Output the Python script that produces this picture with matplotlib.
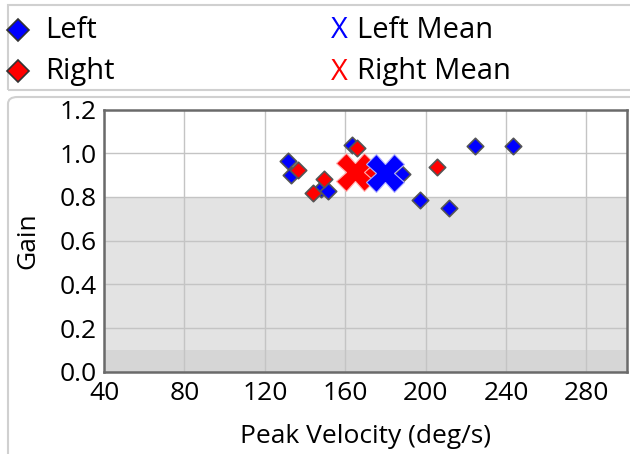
import matplotlib
matplotlib.use("Agg")
import matplotlib.pyplot as plt
from matplotlib.patches import FancyBboxPatch, Rectangle
from matplotlib.lines import Line2D
from matplotlib.ticker import MultipleLocator

plt.rcParams["font.family"] = ["Open Sans", "DejaVu Sans"]

# 数据
left_vel = [131.3, 133.1, 147.9, 151.2, 163.5, 188.0, 224.3, 243.5, 197.0, 211.8]
left_gain = [0.963, 0.902, 0.838, 0.826, 1.038, 0.905, 1.034, 1.034, 0.785, 0.751]
right_vel = [136.3, 149.2, 143.9, 165.8, 205.7, 172.0]
right_gain = [0.921, 0.881, 0.819, 1.023, 0.937, 0.911]
left_mean = (180.0, 0.911)
right_mean = (165.0, 0.916)

# 背景分区
bands = [(0.0, 0.1, "#d6d6d6"), (0.1, 0.8, "#e3e3e3"), (0.8, 1.2, "white")]
xticks = [40, 80, 120, 160, 200, 240, 280]

W, H = 630, 454
fig = plt.figure(figsize=(W / 100, H / 100), dpi=100)

# 外框
fig.patches.append(Rectangle((8 / W, 1 - 90 / H), 640 / W, 85 / H, transform=fig.transFigure,
                             fill=False, ec="#d0d0d0", lw=1.5))
fig.patches.append(FancyBboxPatch((8 / W, -10 / H), 640 / W, (H - 97 + 10) / H,
                                  boxstyle="round,pad=0,rounding_size=0.015",
                                  transform=fig.transFigure, fill=False, ec="#d0d0d0", lw=1.5))

ax = fig.add_axes([104 / W, 1 - 371.7 / H, (626.7 - 104) / W, (371.7 - 109.5) / H])
for lo, hi, c in bands:
    ax.axhspan(lo, hi, color=c, zorder=0, lw=0)

ax.set_xlim(40, 300)
ax.set_ylim(0, 1.2)
ax.set_xticks(xticks)
ax.yaxis.set_major_locator(MultipleLocator(0.2))
ax.yaxis.set_major_formatter(plt.FormatStrFormatter("%.1f"))
ax.grid(True, color="#c4c4c4", lw=1.0, zorder=1)
ax.set_axisbelow(True)
ax.tick_params(length=0, labelsize=19, pad=5)
ax.tick_params(axis="x", pad=7)
for s in ax.spines.values():
    s.set_color("#6a6a6a")
    s.set_linewidth(1.8)

ax.scatter(right_vel[-1:], right_gain[-1:], marker="D", s=70, c="red", edgecolors="#555555", lw=1.2, zorder=3)
ax.scatter(left_vel, left_gain, marker="D", s=70, c="blue", edgecolors="#555555", lw=1.2, zorder=3)
ax.scatter(right_vel[:-1], right_gain[:-1], marker="D", s=70, c="red", edgecolors="#555555", lw=1.2, zorder=3)

ax.plot(*right_mean, marker="X", ms=27, color="red", mec="#ffb0b0", mew=0.8, zorder=4)
ax.plot(*left_mean, marker="X", ms=27, color="blue", mec="#b0b0ff", mew=0.8, zorder=4)

ax.set_xlabel("Peak Velocity (deg/s)", fontsize=19, labelpad=13)
ax.set_ylabel("Gain", fontsize=19, labelpad=14)

# 图例
fig.add_artist(Line2D([18 / W], [1 - 30 / H], marker="D", ms=11, color="blue", mec="#333333", mew=1.2,
                      transform=fig.transFigure))
fig.add_artist(Line2D([18 / W], [1 - 71 / H], marker="D", ms=11, color="red", mec="#333333", mew=1.2,
                      transform=fig.transFigure))
fig.text(45 / W, 1 - 31 / H, "Left", fontsize=21, va="center")
fig.text(45 / W, 1 - 72 / H, "Right", fontsize=21, va="center")
fig.text(331 / W, 1 - 31 / H, "X", fontsize=21, va="center", color="blue")
fig.text(331 / W, 1 - 72 / H, "X", fontsize=21, va="center", color="red")
fig.text(357 / W, 1 - 31 / H, "Left Mean", fontsize=21, va="center")
fig.text(357 / W, 1 - 72 / H, "Right Mean", fontsize=21, va="center")

fig.savefig("out.png", dpi=100)
